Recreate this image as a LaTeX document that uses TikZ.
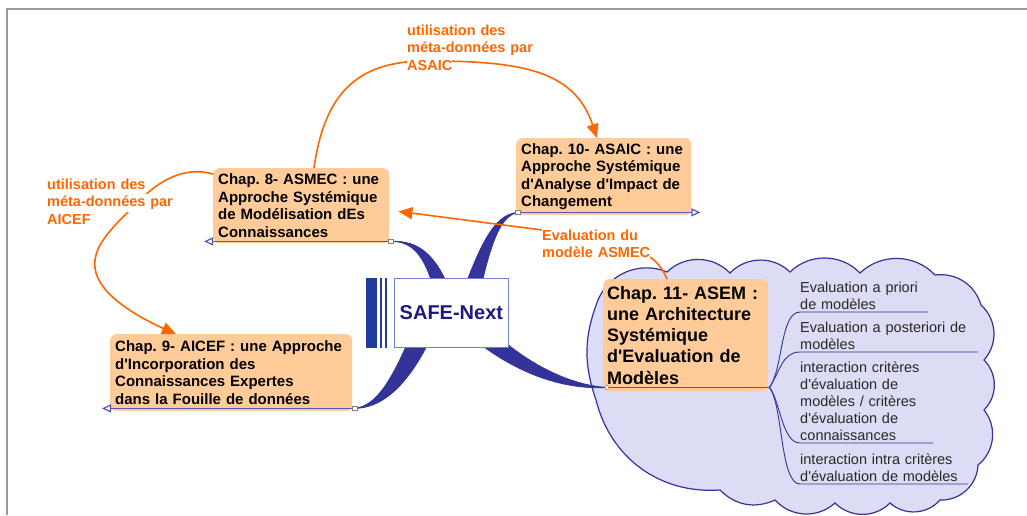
\documentclass[tikz,border=0pt]{standalone}
\usepackage{fontspec}
\setmainfont{Liberation Sans}[Ligatures=TeXOff]
\usetikzlibrary{arrows.meta,calc}
\definecolor{boxfill}{RGB}{255,204,153}
\definecolor{orng}{RGB}{255,102,0}
\definecolor{connblue}{RGB}{51,51,153}
\definecolor{barblue}{RGB}{30,60,160}
\definecolor{safeborder}{RGB}{110,130,210}
\definecolor{safetext}{RGB}{26,26,128}
\definecolor{cloudfill}{RGB}{220,220,245}
\definecolor{ulcol}{RGB}{85,85,175}
\definecolor{framegray}{RGB}{153,153,153}
\definecolor{branchtext}{RGB}{40,40,40}
\newcommand{\hlline}[1]{{\setlength{\fboxsep}{0pt}\colorbox{white}{\strut #1}}}
\tikzset{otip/.tip={Triangle[open,length=9pt,width=8pt]}}
\begin{document}
\frenchspacing
\begin{tikzpicture}[x=1pt,y=1pt,
  chap/.style={fill=boxfill, rounded corners=6pt, anchor=north west, align=left,
    inner xsep=5pt, inner ysep=0pt, text=black,
    font=\fontsize{15}{17.5}\selectfont\bfseries},
  uline/.style={draw=ulcol, line width=1.2pt},
  conn/.style={fill=connblue, draw=connblue, line width=0.8pt, line join=round},
  branch/.style={draw=connblue, line width=0.9pt},
  btext/.style={anchor=base west, inner sep=0pt, align=left, text width=190pt,
    text=branchtext, font=\fontsize{14.5}{17}\selectfont},
  ocurve/.style={draw=orng, line width=1.6pt, -{Triangle[length=14pt,width=12pt]}},
  olabel/.style={anchor=base west, inner sep=0pt, align=left, text width=150pt,
    text=orng, font=\fontsize{14.5}{17.5}\selectfont\bfseries},
  sq/.style={draw=gray, fill=white, line width=0.5pt, minimum width=5pt,
    minimum height=4pt, inner sep=0pt},
  dotm/.style={circle, draw=gray, fill=white, line width=0.5pt,
    minimum size=4pt, inner sep=0pt}]
\useasboundingbox (0,0) rectangle (1027,-515);
% frame
\draw[framegray, line width=2pt] (6.5,-515) -- (6.5,-8.5) -- (1027,-8.5);
% cloud
\path[draw=connblue, fill=cloudfill, line width=1.2pt]
  (598,-300) to[bend left=45] (667,-272) to[bend left=45] (730,-273)
  to[bend left=45] (790,-272) to[bend left=45] (860,-273)
  to[bend left=45] (935,-275) to[bend left=40] (981,-305)
  to[bend left=45] (984,-360) to[bend left=45] (984,-410)
  to[bend left=45] (978,-465) to[bend left=45] (940,-500)
  to[bend left=45] (890,-503) to[bend left=45] (835,-503)
  to[bend left=45] (775,-500) to[bend left=35] (720,-490)
  to[bend left=40] (596,-400) to[bend left=20] (598,-300) -- cycle;
% chapter boxes
\node[chap, text width=166pt, minimum height=75pt] (asmec) at (213,-168)
  {Chap. 8- ASMEC : une\\Approche Systémique\\de Modélisation dEs\\Connaissances};
\node[chap, text width=165pt, minimum height=77pt] (asaic) at (516,-138)
  {Chap. 10- ASAIC : une\\Approche Systémique\\d'Analyse d'Impact de\\Changement};
\node[chap, text width=232pt, minimum height=77pt] (aicef) at (110,-334)
  {Chap. 9- AICEF : une Approche\\d'Incorporation des\\Connaissances Expertes\\dans la Fouille de données};
\node[chap, text width=157pt, inner xsep=4pt, minimum height=112pt,
  font=\fontsize{18}{21.25}\selectfont\bfseries] (asem) at (603,-279)
  {Chap. 11- ASEM :\\une Architecture\\Systémique\\d'Evaluation de\\Modèles};
% attach points
\coordinate (pA) at ($(asmec.south east)+(1,2)$);
\coordinate (pAL) at ($(asmec.south west)+(-9,2)$);
\coordinate (pB) at ($(asaic.south west)+(2,3)$);
\coordinate (pBR) at ($(asaic.south east)+(9,3)$);
\coordinate (pC) at ($(aicef.south east)+(2,3)$);
\coordinate (pCL) at ($(aicef.south west)+(-8,3)$);
\coordinate (pD) at ($(asem.south west)+(4,4)$);
\coordinate (bR) at ($(asem.south east)+(1,4)$);
% underlines
\draw[uline, otip-] (pAL) -- (pA);
\draw[uline, -otip] (pB) -- (pBR);
\draw[uline, otip-] (pCL) -- (pC);
\draw[uline] (pD) -- (bR);
% branches
\coordinate (u1) at (800,-312);
\coordinate (u2) at (800,-352);
\coordinate (u3) at (800,-443);
\coordinate (u4) at (800,-484);
\draw[branch] (bR) .. controls (783,-370) and (780,-312) .. (u1) -- ++(128,0);
\draw[branch] (bR) .. controls (780,-372) and (782,-352) .. (u2) -- ++(178,0);
\draw[branch] (bR) .. controls (780,-400) and (782,-443) .. (u3) -- ++(133,0);
\draw[branch] (bR) .. controls (783,-405) and (780,-484) .. (u4) -- ++(168,0);
\node[btext] (b1) at (800,-292) {Evaluation a priori\\de modèles};
\node[btext] (b2) at (800,-332) {Evaluation a posteriori de\\modèles};
\node[btext] (b3) at (800,-372) {interaction critères\\d'évaluation de\\modèles / critères\\d'évaluation de\\connaissances};
\node[btext] (b4) at (800,-464) {interaction intra critères\\d'évaluation de modèles};
% blue tapered connectors
\filldraw[conn] (pA) .. controls (415,-241) and (428,-258) .. (440,-313)
  -- (458,-313) .. controls (440,-255) and (420,-240) .. (pA) -- cycle;
\filldraw[conn] (pB) .. controls (492,-214) and (478,-250) .. (455,-313)
  -- (475,-313) .. controls (488,-255) and (497,-216) .. (pB) -- cycle;
\filldraw[conn] (pC) .. controls (380,-406) and (397,-370) .. (420,-313)
  -- (442,-313) .. controls (418,-372) and (390,-408) .. (pC) -- cycle;
\filldraw[conn] (pD) .. controls (565,-390) and (508,-375) .. (450,-318)
  -- (470,-308) .. controls (520,-366) and (575,-386) .. (pD) -- cycle;
% central node
\node[draw=safeborder, fill=white, line width=0.8pt, minimum width=114pt,
  minimum height=69pt, anchor=north west, text=safetext,
  font=\fontsize{20}{24}\selectfont\bfseries] (safe) at (394,-278) {SAFE-Next};
\fill[barblue] ($(safe.north west)+(-28,0)$) rectangle ($(safe.south west)+(-17,0)$);
\fill[barblue] ($(safe.north west)+(-14.5,0)$) rectangle ($(safe.south west)+(-12,0)$);
\fill[barblue] ($(safe.north west)+(-9.5,0)$) rectangle ($(safe.south west)+(-7,0)$);
% markers
\node[sq] (sqA) at (pA) {};
\node[sq] (sqB) at (pB) {};
\node[sq] (sqC) at (pC) {};
\node[dotm] (dotD) at (pD) {};
% orange relations
\coordinate (o1s) at ($(asmec.north west)+(101,0)$);
\coordinate (o1e) at ($(asaic.north west)+(81,0)$);
\coordinate (o2s) at ($(asmec.north west)+(0,-6)$);
\coordinate (o2e) at ($(aicef.north west)+(66,0)$);
\coordinate (o3s) at ($(asem.north west)+(64,0)$);
\coordinate (o3e) at ($(asmec.south east)+(9,32)$);
\draw[ocurve] (o1s) .. controls (325,-90) and (360,-60) .. (430,-61)
  .. controls (525,-61) and (575,-72) .. (o1e);
\draw[ocurve] (o2s) .. controls (185,-166) and (160,-180) .. (140,-200)
  .. controls (115,-225) and (92,-245) .. (95,-268)
  .. controls (98,-295) and (140,-318) .. (o2e);
\draw[ocurve] (o3s) .. controls (662,-268) and (657,-261) .. (648,-256)
  -- (542,-230) -- (o3e);
\node[olabel] (lt) at (407,-35) {\hlline{utilisation des}\\\hlline{méta-données par}\\\hlline{ASAIC}};
\node[olabel] (ll) at (47,-189) {\hlline{utilisation des}\\\hlline{méta-données par}\\\hlline{AICEF}};
\node[olabel, font=\fontsize{14.5}{17}\selectfont\bfseries] (le) at (542,-240) {\hlline{Evaluation du}\\\hlline{modèle ASMEC}};
\end{tikzpicture}
\end{document}
